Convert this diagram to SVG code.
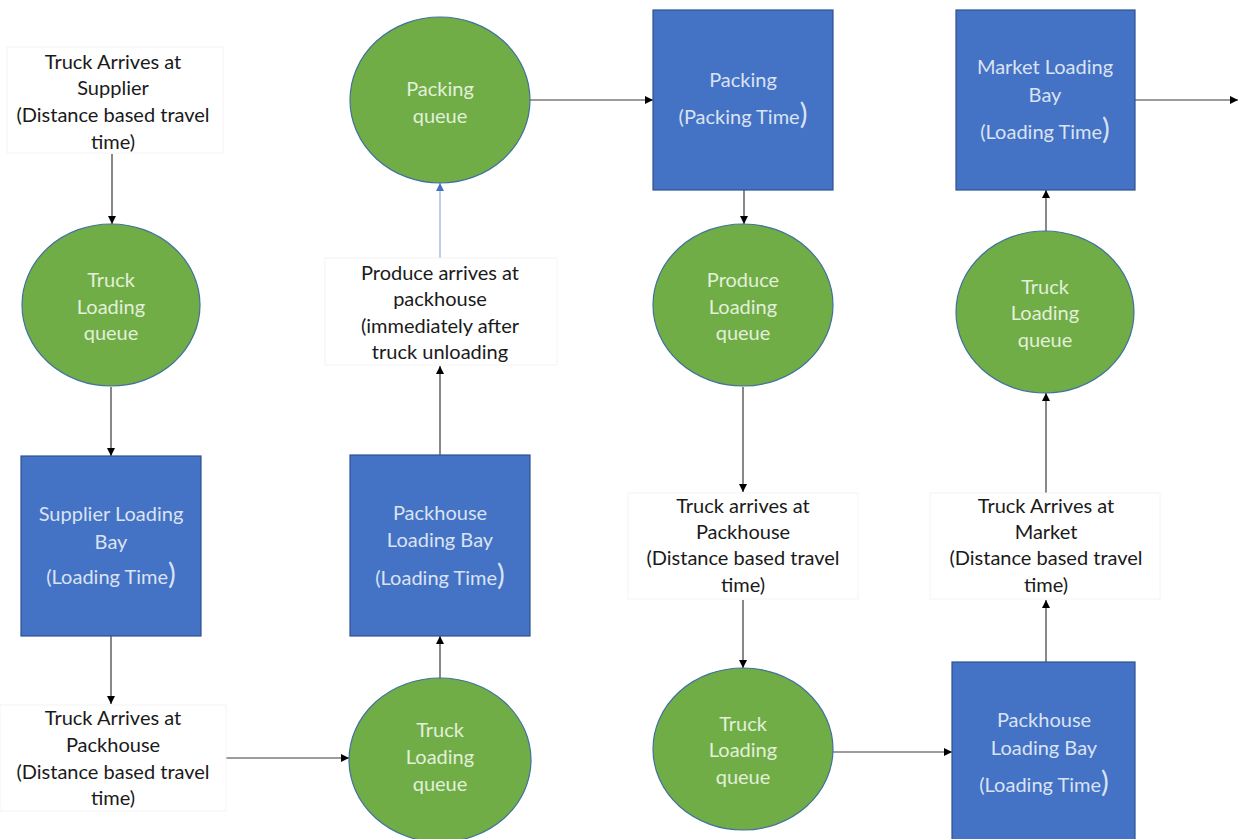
<svg xmlns="http://www.w3.org/2000/svg" width="1240" height="839" viewBox="0 0 1240 839">
  <style>
    .q { fill: #70AD47; stroke: #41719C; stroke-width: 1.2; }
    .b { fill: #4472C4; stroke: #2F528F; stroke-width: 1.2; }
    .tb { fill: #ffffff; stroke: #f4f4f4; stroke-width: 1; }
    text { font-family: Lato, "Open Sans", "Liberation Sans", sans-serif; font-size: 20px; text-anchor: middle; }
    .qt { fill: #E2F0D9; }
    .bt { fill: #DAE3F3; }
    .lt { fill: #1a1a1a; }
    .big { font-size: 29px; }
    .c { stroke: #3a3a3a; stroke-width: 1.2; fill: none; marker-end: url(#arr); }
    .cb { stroke: #8FAADC; stroke-width: 1.2; fill: none; marker-end: url(#arrb); }
  </style>
  <defs>
    <marker id="arr" viewBox="0 0 10 10" refX="10" refY="5" markerWidth="8" markerHeight="8" markerUnits="userSpaceOnUse" orient="auto">
      <path d="M0,0 L10,5 L0,10 Z" fill="#000"/>
    </marker>
    <marker id="arrb" viewBox="0 0 10 10" refX="10" refY="5" markerWidth="8" markerHeight="8" markerUnits="userSpaceOnUse" orient="auto">
      <path d="M0,0 L10,5 L0,10 Z" fill="#4472C4"/>
    </marker>
  </defs>
  <rect width="1240" height="839" fill="#ffffff"/>

  <!-- connectors -->
  <g id="connectors">
    <line class="c" x1="112" y1="154" x2="112" y2="224"/>
    <line class="c" x1="111" y1="387" x2="111" y2="456"/>
    <line class="c" x1="111" y1="636" x2="111" y2="704"/>
    <line class="c" x1="226" y1="758" x2="349" y2="758"/>
    <line class="c" x1="440" y1="678" x2="440" y2="636"/>
    <line class="c" x1="440" y1="455" x2="440" y2="366"/>
    <line class="cb" x1="440" y1="258" x2="440" y2="183"/>
    <line class="c" x1="530" y1="100" x2="653" y2="100"/>
    <line class="c" x1="744" y1="190" x2="744" y2="224"/>
    <line class="c" x1="743" y1="387" x2="743" y2="492"/>
    <line class="c" x1="743" y1="600" x2="743" y2="668"/>
    <line class="c" x1="833" y1="752" x2="952" y2="752"/>
    <line class="c" x1="1046" y1="662" x2="1046" y2="600"/>
    <line class="c" x1="1046" y1="493" x2="1046" y2="393"/>
    <line class="c" x1="1046" y1="231" x2="1046" y2="190"/>
    <line class="c" x1="1135" y1="100" x2="1238" y2="100"/>
  </g>

  <!-- column 1 -->
  <g id="truck-arrives-supplier">
    <rect class="tb" x="7" y="47" width="216" height="106"/>
    <text class="lt"><tspan x="113" y="69">Truck Arrives at</tspan><tspan x="113" y="95">Supplier</tspan><tspan x="113" y="122">(Distance based travel</tspan><tspan x="113" y="149">time)</tspan></text>
  </g>
  <g id="truck-loading-queue-1">
    <ellipse class="q" cx="111" cy="305" rx="89" ry="81"/>
    <text class="qt"><tspan x="111" y="287">Truck</tspan><tspan x="111" y="314">Loading</tspan><tspan x="111" y="340">queue</tspan></text>
  </g>
  <g id="supplier-loading-bay">
    <rect class="b" x="21" y="456" width="180" height="180"/>
    <text class="bt"><tspan x="111" y="521">Supplier Loading</tspan><tspan x="111" y="549">Bay</tspan><tspan x="111" y="584">(Loading Time<tspan class="big">)</tspan></tspan></text>
  </g>
  <g id="truck-arrives-packhouse-1">
    <rect class="tb" x="0" y="705" width="226" height="106"/>
    <text class="lt"><tspan x="113" y="725">Truck Arrives at</tspan><tspan x="113" y="752">Packhouse</tspan><tspan x="113" y="779">(Distance based travel</tspan><tspan x="113" y="805">time)</tspan></text>
  </g>

  <!-- column 2 -->
  <g id="packing-queue">
    <ellipse class="q" cx="440" cy="100" rx="90" ry="83"/>
    <text class="qt"><tspan x="440" y="96">Packing</tspan><tspan x="440" y="123">queue</tspan></text>
  </g>
  <g id="produce-arrives">
    <rect class="tb" x="325" y="258" width="232" height="107"/>
    <text class="lt"><tspan x="440" y="280">Produce arrives at</tspan><tspan x="440" y="306">packhouse</tspan><tspan x="440" y="333">(immediately after</tspan><tspan x="440" y="359">truck unloading</tspan></text>
  </g>
  <g id="packhouse-loading-bay-1">
    <rect class="b" x="350" y="455" width="180" height="181"/>
    <text class="bt"><tspan x="440" y="520">Packhouse</tspan><tspan x="440" y="547">Loading Bay</tspan><tspan x="440" y="585">(Loading Time<tspan class="big">)</tspan></tspan></text>
  </g>
  <g id="truck-loading-queue-2">
    <ellipse class="q" cx="440" cy="760" rx="91" ry="82"/>
    <text class="qt"><tspan x="440" y="737">Truck</tspan><tspan x="440" y="764">Loading</tspan><tspan x="440" y="791">queue</tspan></text>
  </g>

  <!-- column 3 -->
  <g id="packing">
    <rect class="b" x="653" y="10" width="180" height="180"/>
    <text class="bt"><tspan x="743" y="87">Packing</tspan><tspan x="743" y="124">(Packing Time<tspan class="big">)</tspan></tspan></text>
  </g>
  <g id="produce-loading-queue">
    <ellipse class="q" cx="743" cy="305" rx="90" ry="81"/>
    <text class="qt"><tspan x="743" y="287">Produce</tspan><tspan x="743" y="314">Loading</tspan><tspan x="743" y="340">queue</tspan></text>
  </g>
  <g id="truck-arrives-packhouse-2">
    <rect class="tb" x="628" y="493" width="230" height="106"/>
    <text class="lt"><tspan x="743" y="513">Truck arrives at</tspan><tspan x="743" y="539">Packhouse</tspan><tspan x="743" y="565">(Distance based travel</tspan><tspan x="743" y="592">time)</tspan></text>
  </g>
  <g id="truck-loading-queue-3">
    <ellipse class="q" cx="743" cy="749" rx="90" ry="81"/>
    <text class="qt"><tspan x="743" y="731">Truck</tspan><tspan x="743" y="757">Loading</tspan><tspan x="743" y="784">queue</tspan></text>
  </g>

  <!-- column 4 -->
  <g id="market-loading-bay">
    <rect class="b" x="956" y="10" width="179" height="180"/>
    <text class="bt"><tspan x="1045" y="74">Market Loading</tspan><tspan x="1045" y="102">Bay</tspan><tspan x="1045" y="139">(Loading Time<tspan class="big">)</tspan></tspan></text>
  </g>
  <g id="truck-loading-queue-4">
    <ellipse class="q" cx="1045" cy="312" rx="89" ry="81"/>
    <text class="qt"><tspan x="1045" y="294">Truck</tspan><tspan x="1045" y="320">Loading</tspan><tspan x="1045" y="347">queue</tspan></text>
  </g>
  <g id="truck-arrives-market">
    <rect class="tb" x="930" y="493" width="230" height="106"/>
    <text class="lt"><tspan x="1046" y="513">Truck Arrives at</tspan><tspan x="1046" y="539">Market</tspan><tspan x="1046" y="565">(Distance based travel</tspan><tspan x="1046" y="592">time)</tspan></text>
  </g>
  <g id="packhouse-loading-bay-2">
    <rect class="b" x="952" y="662" width="183" height="178"/>
    <text class="bt"><tspan x="1044" y="727">Packhouse</tspan><tspan x="1044" y="755">Loading Bay</tspan><tspan x="1044" y="792">(Loading Time<tspan class="big">)</tspan></tspan></text>
  </g>
</svg>
